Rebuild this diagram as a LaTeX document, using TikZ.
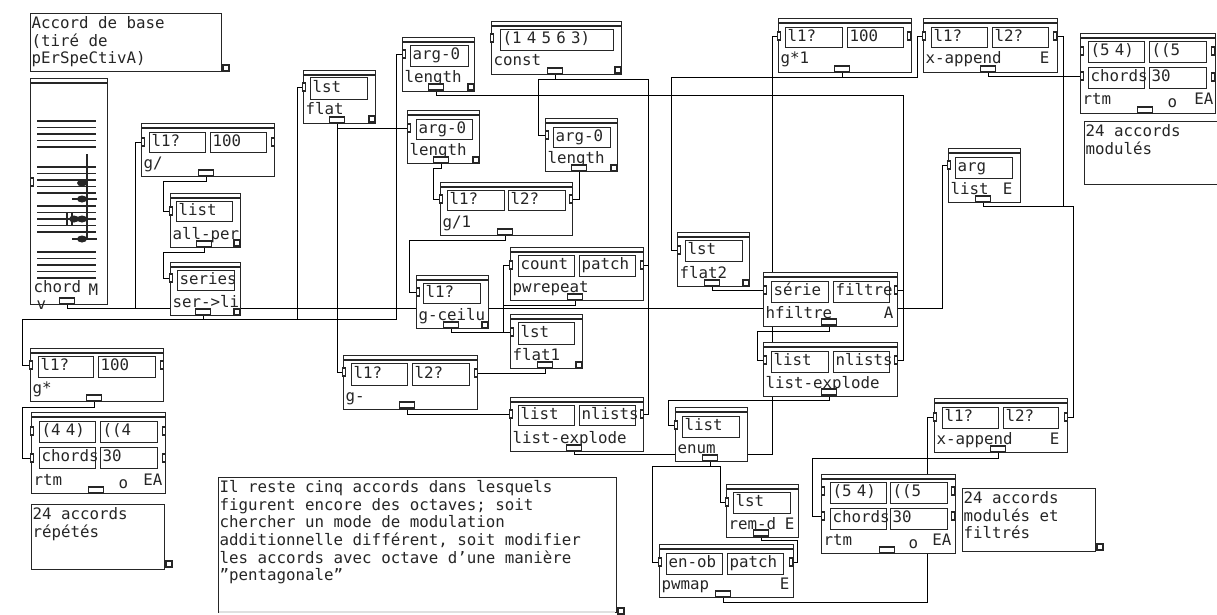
\documentclass[tikz,border=0pt]{standalone}
\usepackage{fontspec}
\usepackage{tikz}
\usetikzlibrary{backgrounds}
\setmainfont{DejaVu Sans Mono}

% boite : nom, gauche, haut, droite, bas, titre
\newcommand{\boite}[6]{
    \pgfmathsetmacro\larg{#4-#2}
    \pgfmathsetmacro\haut{#5-#3}
    \node (#1) [cadre, minimum width=\larg, minimum height=\haut] at (#2,#3) {};
    \draw (#2,#3+5) -- (#4,#3+5);
    \node (#1-t) [titre] at (#2+2,#5-8) {#6};
}
% fente : nom, gauche, haut, droite, bas, texte
\newcommand{\fente}[6]{
    \pgfmathsetmacro\larg{#4-#2-4}
    \pgfmathsetmacro\haut{#5-#3}
    \node (#1) [case, text width=\larg, minimum height=\haut] at (#2,#3) {#6};
}
% commentaire : nom, gauche, haut, droite, bas, texte
\newcommand{\commentaire}[6]{
    \pgfmathsetmacro\larg{#4-#2}
    \pgfmathsetmacro\haut{#5-#3}
    \node (#1) [cadre, minimum width=\larg, minimum height=\haut] at (#2,#3) {};
    \node (#1-t) [note] at (#2+1,#3+3) {#6};
}
% portee : cinq lignes, haut de la premiere
\newcommand{\portee}[1]{
    \draw (37,#1) -- (96,#1);
    \draw (37,#1+6.5) -- (96,#1+6.5);
    \draw (37,#1+13) -- (96,#1+13);
    \draw (37,#1+19.5) -- (96,#1+19.5);
    \draw (37,#1+26) -- (96,#1+26);
}

\begin{document}
\begin{tikzpicture}[x=1pt, y=-1pt, line width=1.1pt, black!85,
    every node/.style={font=\fontsize{15.8}{17.6}\selectfont},
    cadre/.style={draw, fill=white, anchor=north west, inner sep=0},
    case/.style={draw, anchor=north west, inner xsep=2pt, inner ysep=0, align=left, text height=10pt, text depth=3pt},
    titre/.style={anchor=base west, inner sep=0},
    note/.style={anchor=north west, inner sep=0, align=left},
    port/.style={draw, fill=white, inner sep=0, minimum width=3.5, minimum height=8},
    sortie/.style={draw, fill=white, inner sep=0, minimum width=15, minimum height=6},
    poignee/.style={draw, fill=white, inner sep=0, minimum width=6, minimum height=6}]
        \useasboundingbox (0,0) rectangle (1217,615);

        % Les commentaires
        \commentaire{base}{30}{13}{221}{71}{Accord de base\\(tiré de\\pErSpeCtivA)}
        \node (base-p) [poignee] at (226,68) {};
        \commentaire{repetes}{31}{504}{164}{569}{24 accords\\répétés}
        \node (repetes-p) [poignee] at (169,564) {};
        \commentaire{cinq}{218}{477}{616}{612}{Il reste cinq accords dans lesquels\\figurent encore des octaves; soit\\chercher un mode de modulation\\additionnelle différent, soit modifier\\les accords avec octave d'une manière\\"pentagonale"}
        \draw [black!12, line width=1.6pt] (219,612) -- (615,612);
        \node (cinq-p) [poignee] at (621,611) {};
        \commentaire{modules}{1084}{121}{1217}{184}{24 accords\\modulés}
        \commentaire{filtres}{962}{488}{1095}{551}{24 accords\\modulés et\\filtrés}
        \node (filtres-p) [poignee] at (1100,547) {};

        % L'accord
        \boite{accord}{30}{78}{107}{304}{}
        \portee{121}
        \portee{167}
        \portee{206}
        \portee{252}
        \draw (87,154) -- (87,240);
        \draw (72,199) -- (97,199);
        \draw (72,239) -- (97,239);
        \draw (67,213) -- (67,225);
        \draw (72,213) -- (72,225);
        \fill (82,183) ellipse (5 and 3.5);
        \fill (82,199) ellipse (5 and 3.5);
        \fill (82,219) ellipse (5 and 3.5);
        \fill (74,219) ellipse (5 and 3.5);
        \fill (82,239) ellipse (5 and 3.5);
        \node (accord-n) [titre] at (33,292) {chord};
        \node (accord-m) [titre] at (88,295) {M};
        \node (accord-v) [titre] at (36,309) {v};
        \node (accord-e) [port] at (32,182) {};
        \node (accord-s) [sortie] at (67,301) {};

        % Les boites de gauche
        \boite{gdiv}{141}{123}{274}{176}{g/}
        \fente{gdiv-u}{149}{132}{205}{152}{l1?}
        \fente{gdiv-v}{210}{132}{266}{152}{100}
        \node (gdiv-e) [port] at (143,142) {};
        \node (gdiv-b) [port] at (273,142) {};
        \node (gdiv-s) [sortie] at (206,173) {};

        \boite{tous}{170}{193}{240}{247}{all-per}
        \fente{tous-u}{176}{201}{232}{221}{list}
        \node (tous-e) [port] at (171,211) {};
        \node (tous-s) [sortie] at (204,244) {};
        \node (tous-p) [poignee] at (237,243) {};

        \boite{serie}{170}{262}{240}{315}{ser->li}
        \fente{serie-u}{177}{270}{234}{290}{series}
        \node (serie-e) [port] at (171,278) {};
        \node (serie-s) [sortie] at (203,312) {};
        \node (serie-p) [poignee] at (237,312) {};

        \boite{gfois}{30}{348}{163}{401}{g*}
        \fente{gfois-u}{38}{356}{93}{377}{l1?}
        \fente{gfois-v}{98}{356}{155}{377}{100}
        \node (gfois-e) [port] at (31,365) {};
        \node (gfois-b) [port] at (162,365) {};
        \node (gfois-s) [sortie] at (94,398) {};

        \boite{rtmg}{31}{412}{165}{493}{rtm}
        \fente{rtmg-u}{39}{421}{95}{442}{(4 4)}
        \fente{rtmg-v}{100}{421}{157}{442}{((4}
        \fente{rtmg-w}{39}{447}{95}{468}{chords}
        \fente{rtmg-x}{100}{447}{157}{468}{30}
        \node (rtmg-a) [port] at (32,431) {};
        \node (rtmg-b) [port] at (164,431) {};
        \node (rtmg-c) [port] at (32,458) {};
        \node (rtmg-d) [port] at (164,458) {};
        \node (rtmg-s) [sortie] at (96,490) {};
        \node (rtmg-o) [titre] at (118,488) {o};
        \node (rtmg-f) [titre, anchor=base east] at (163,485) {EA};

        % Les boites du milieu
        \boite{aplat}{303}{70}{375}{123}{flat}
        \fente{aplat-u}{310}{77}{367}{99}{lst}
        \node (aplat-e) [port] at (304,87) {};
        \node (aplat-s) [sortie] at (337,120) {};
        \node (aplat-p) [poignee] at (372,119) {};

        \boite{lgun}{402}{37}{474}{91}{length}
        \fente{lgun-u}{410}{45}{468}{66}{arg-0}
        \node (lgun-e) [port] at (404,54) {};
        \node (lgun-s) [sortie] at (436,87) {};
        \node (lgun-p) [poignee] at (471,87) {};

        \boite{const}{491}{21}{621}{74}{const}
        \fente{const-u}{500}{29}{613}{50}{(1 4 5 6 3)}
        \node (const-e) [port] at (492,38) {};
        \node (const-s) [sortie] at (555,71) {};
        \node (const-p) [poignee] at (618,70) {};

        \boite{lgdeux}{407}{110}{479}{163}{length}
        \fente{lgdeux-u}{416}{119}{472}{139}{arg-0}
        \node (lgdeux-e) [port] at (409,128) {};
        \node (lgdeux-s) [sortie] at (441,160) {};
        \node (lgdeux-p) [poignee] at (476,160) {};

        \boite{lgtrois}{545}{118}{617}{171}{length}
        \fente{lgtrois-u}{553}{127}{610}{147}{arg-0}
        \node (lgtrois-e) [port] at (547,135) {};
        \node (lgtrois-s) [sortie] at (579,168) {};
        \node (lgtrois-p) [poignee] at (614,168) {};

        \boite{gun}{440}{182}{572}{235}{g/1}
        \fente{gun-u}{447}{190}{504}{210}{l1?}
        \fente{gun-v}{508}{190}{565}{210}{l2?}
        \node (gun-a) [port] at (441,199) {};
        \node (gun-b) [port] at (571,199) {};
        \node (gun-s) [sortie] at (505,232) {};

        \boite{repet}{510}{247}{643}{300}{pwrepeat}
        \fente{repet-u}{518}{255}{574}{276}{count}
        \fente{repet-v}{579}{255}{635}{276}{patch}
        \node (repet-a) [port] at (511,265) {};
        \node (repet-b) [port] at (642,265) {};
        \node (repet-s) [sortie] at (575,297) {};

        \boite{plafond}{416}{275}{488}{328}{g-ceilu}
        \fente{plafond-u}{423}{283}{480}{303}{l1?}
        \node (plafond-e) [port] at (418,292) {};
        \node (plafond-s) [sortie] at (451,325) {};
        \node (plafond-p) [poignee] at (485,325) {};

        \boite{aplatun}{510}{314}{582}{368}{flat1}
        \fente{aplatun-u}{518}{322}{574}{344}{lst}
        \node (aplatun-e) [port] at (512,332) {};
        \node (aplatun-s) [sortie] at (545,365) {};
        \node (aplatun-p) [poignee] at (579,365) {};

        \boite{gmoins}{343}{355}{477}{409}{g-}
        \fente{gmoins-u}{351}{363}{407}{385}{l1?}
        \fente{gmoins-v}{412}{363}{469}{385}{l2?}
        \node (gmoins-a) [port] at (344,372) {};
        \node (gmoins-b) [port] at (476,373) {};
        \node (gmoins-s) [sortie] at (407,405) {};

        \boite{explun}{510}{397}{643}{451}{list-explode}
        \fente{explun-u}{518}{405}{574}{425}{list}
        \fente{explun-v}{579}{405}{635}{425}{nlists}
        \node (explun-a) [port] at (511,414) {};
        \node (explun-b) [port] at (642,414) {};
        \node (explun-s) [sortie] at (574,448) {};

        \boite{enum}{675}{407}{747}{461}{enum}
        \fente{enum-u}{682}{416}{739}{437}{list}
        \node (enum-e) [port] at (676,425) {};
        \node (enum-s) [sortie] at (710,458) {};

        \boite{remd}{726}{484}{798}{537}{rem-d}
        \fente{remd-u}{733}{492}{790}{513}{lst}
        \node (remd-e) [port] at (727,502) {};
        \node (remd-s) [sortie] at (761,533) {};
        \node (remd-f) [titre, anchor=base east] at (795,529) {E};

        \boite{map}{659}{544}{793}{597}{pwmap}
        \fente{map-u}{666}{553}{722}{574}{en-ob}
        \fente{map-v}{727}{553}{783}{574}{patch}
        \node (map-a) [port] at (660,562) {};
        \node (map-b) [port] at (791,562) {};
        \node (map-s) [sortie] at (723,594) {};
        \node (map-f) [titre, anchor=base east] at (790,589) {E};

        % Les boites de droite
        \boite{aplatdeux}{677}{232}{749}{286}{flat2}
        \fente{aplatdeux-u}{685}{240}{742}{261}{lst}
        \node (aplatdeux-e) [port] at (679,250) {};
        \node (aplatdeux-s) [sortie] at (712,283) {};
        \node (aplatdeux-p) [poignee] at (746,283) {};

        \boite{gfoisun}{778}{18}{911}{72}{g*1}
        \fente{gfoisun-u}{785}{27}{842}{47}{l1?}
        \fente{gfoisun-v}{847}{27}{903}{47}{100}
        \node (gfoisun-a) [port] at (779,36) {};
        \node (gfoisun-b) [port] at (909,36) {};
        \node (gfoisun-s) [sortie] at (842,69) {};

        \boite{xapp}{923}{18}{1057}{72}{x-append}
        \fente{xapp-u}{931}{27}{987}{47}{l1?}
        \fente{xapp-v}{992}{27}{1048}{47}{l2?}
        \node (xapp-a) [port] at (924,36) {};
        \node (xapp-b) [port] at (1055,36) {};
        \node (xapp-s) [sortie] at (988,69) {};
        \node (xapp-f) [titre, anchor=base east] at (1050,64) {E};

        \boite{rtmun}{1080}{33}{1215}{113}{rtm}
        \fente{rtmun-u}{1088}{41}{1144}{62}{(5 4)}
        \fente{rtmun-v}{1149}{41}{1206}{62}{((5}
        \fente{rtmun-w}{1088}{67}{1144}{88}{chords}
        \fente{rtmun-x}{1149}{67}{1206}{88}{30}
        \node (rtmun-a) [port] at (1082,51) {};
        \node (rtmun-b) [port] at (1213,51) {};
        \node (rtmun-c) [port] at (1082,76) {};
        \node (rtmun-d) [port] at (1213,77) {};
        \node (rtmun-s) [sortie] at (1145,110) {};
        \node (rtmun-o) [titre] at (1167,108) {o};
        \node (rtmun-f) [titre, anchor=base east] at (1214,105) {EA};

        \boite{liste}{948}{148}{1020}{202}{list}
        \fente{liste-u}{955}{157}{1012}{178}{arg}
        \node (liste-e) [port] at (949,165) {};
        \node (liste-s) [sortie] at (983,199) {};
        \node (liste-f) [titre, anchor=base east] at (1013,194) {E};

        \boite{hfil}{763}{272}{897}{326}{hfiltre}
        \fente{hfil-u}{771}{281}{828}{302}{série}
        \fente{hfil-v}{833}{281}{889}{302}{filtre}
        \node (hfil-a) [port] at (765,290) {};
        \node (hfil-b) [port] at (896,290) {};
        \node (hfil-s) [sortie] at (829,322) {};
        \node (hfil-f) [titre, anchor=base east] at (894,318) {A};

        \boite{expldeux}{763}{342}{897}{396}{list-explode}
        \fente{expldeux-u}{771}{351}{828}{372}{list}
        \fente{expldeux-v}{833}{351}{889}{372}{nlists}
        \node (expldeux-a) [port] at (765,360) {};
        \node (expldeux-b) [port] at (896,360) {};
        \node (expldeux-s) [sortie] at (829,392) {};

        \boite{xappdeux}{934}{398}{1067}{452}{x-append}
        \fente{xappdeux-u}{942}{407}{998}{428}{l1?}
        \fente{xappdeux-v}{1003}{407}{1058}{428}{l2?}
        \node (xappdeux-a) [port] at (935,417) {};
        \node (xappdeux-b) [port] at (1066,417) {};
        \node (xappdeux-s) [sortie] at (998,449) {};
        \node (xappdeux-f) [titre, anchor=base east] at (1060,444) {E};

        \boite{rtmdeux}{821}{474}{955}{553}{rtm}
        \fente{rtmdeux-u}{830}{482}{886}{503}{(5 4)}
        \fente{rtmdeux-v}{890}{482}{947}{503}{((5}
        \fente{rtmdeux-w}{830}{508}{886}{529}{chords}
        \fente{rtmdeux-x}{890}{508}{947}{529}{30}
        \node (rtmdeux-a) [port] at (823,491) {};
        \node (rtmdeux-b) [port] at (953,491) {};
        \node (rtmdeux-c) [port] at (823,516) {};
        \node (rtmdeux-d) [port] at (953,516) {};
        \node (rtmdeux-s) [sortie] at (887,550) {};
        \node (rtmdeux-o) [titre] at (908,548) {o};
        \node (rtmdeux-f) [titre, anchor=base east] at (952,545) {EA};

        % Les liaisons
        \begin{scope}[on background layer]
        \draw (accord-s.south) |- (942,308) |- (liste-e.west);
        \draw (accord-s.south) |- (135,308) |- (gdiv-e.west);
        \draw (gdiv-s.south) |- (163,181) |- (tous-e.west);
        \draw (tous-s.south) |- (163,252) |- (serie-e.west);
        \draw (serie-s.south) |- (22,319) |- (gfois-e.west);
        \draw (serie-s.south) |- (297,319) |- (aplat-e.west);
        \draw (serie-s.south) |- (396,319) |- (lgun-e.west);
        \draw (aplat-s.south) |- (lgdeux-e.west);
        \draw (aplat-s.south) |- (gmoins-a.west);
        \draw (gfois-s.south) |- (22,407) |- (rtmg-c.west);
        \draw (lgun-s.south) |- (903,95) |- (hfil-b.east);
        \draw (lgun-s.south) |- (903,95) |- (expldeux-b.east);
        \draw (const-s.south) |- (538,79) |- (lgtrois-e.west);
        \draw (const-s.south) |- (648,79) |- (explun-b.east);
        \draw (const-s.south) |- (648,79) |- (repet-b.east);
        \draw (lgdeux-s.south) |- (433,168) |- (gun-a.west);
        \draw (lgtrois-s.south) |- (gun-b.east);
        \draw (gun-s.south) |- (409,240) |- (plafond-e.west);
        \draw (plafond-s.south) |- (aplatun-e.west);
        \draw (plafond-s.south) |- (503,332) |- (repet-a.west);
        \draw (repet-s.south) |- (503,305) |- (aplatun-e.west);
        \draw (aplatun-s.south) |- (gmoins-b.east);
        \draw (gmoins-s.south) |- (explun-a.west);
        \draw (explun-s.south) |- (772,454) |- (gfoisun-a.west);
        \draw (gfoisun-s.south) |- (671,77) |- (aplatdeux-e.west);
        \draw (gfoisun-s.south) |- (917,77) |- (xapp-a.west);
        \draw (aplatdeux-s.south) |- (hfil-a.west);
        \draw (hfil-s.south) |- (757,331) |- (expldeux-a.west);
        \draw (expldeux-s.south) |- (668,400) |- (enum-e.west);
        \draw (enum-s.south) |- (652,466) |- (map-a.west);
        \draw (enum-s.south) |- (720,466) |- (remd-e.west);
        \draw (remd-s.south) |- (797,540) |- (map-b.east);
        \draw (map-s.south) |- (927,602) |- (xappdeux-a.west);
        \draw (xappdeux-s.south) |- (812,458) |- (rtmdeux-c.west);
        \draw (liste-s.south) |- (1063,206) |- (xapp-b.east);
        \draw (liste-s.south) |- (1073,206) |- (xappdeux-b.east);
        \draw (xapp-s.south) |- (rtmun-c.west);
        \end{scope}
    \end{tikzpicture}
\end{document}
